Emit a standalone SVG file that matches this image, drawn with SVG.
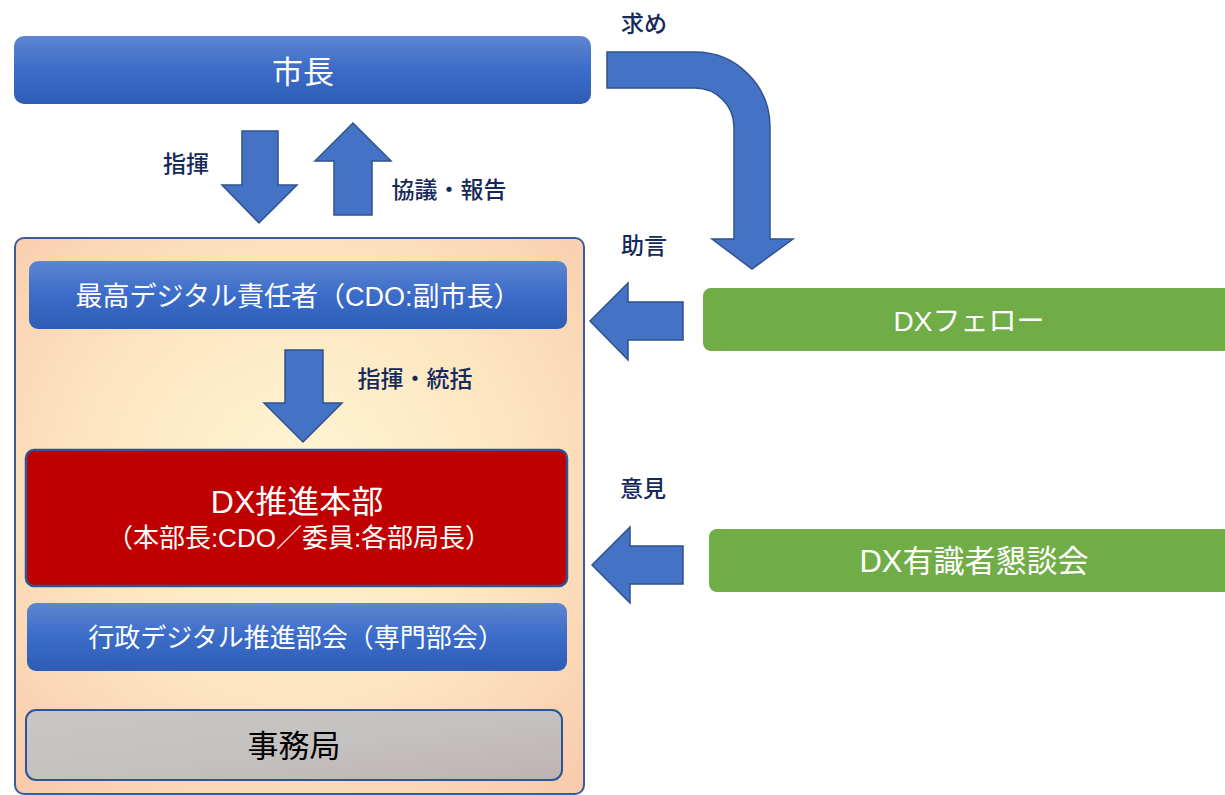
<svg xmlns="http://www.w3.org/2000/svg" width="1225" height="795" viewBox="0 0 1225 795">
<defs>
<linearGradient id="blue" x1="0" y1="0" x2="0" y2="1">
<stop offset="0" stop-color="#5e86d0"/>
<stop offset="0.5" stop-color="#3b6cc9"/>
<stop offset="1" stop-color="#2e5db5"/>
</linearGradient>
<radialGradient id="peach" cx="0.5" cy="0.45" r="0.75">
<stop offset="0" stop-color="#fff6d6"/>
<stop offset="0.5" stop-color="#fde6c0"/>
<stop offset="1" stop-color="#f7c9ab"/>
</radialGradient>
<linearGradient id="grey" x1="0" y1="0" x2="1" y2="1">
<stop offset="0" stop-color="#c9c6c6"/>
<stop offset="0.5" stop-color="#c4c2c1"/>
<stop offset="1" stop-color="#bfb3b3"/>
</linearGradient>
<style>
.t{font-family:"Liberation Sans","Noto Sans CJK JP",sans-serif;fill:#fff;text-anchor:middle;dominant-baseline:central}
.lbl{font-family:"Noto Sans CJK JP","Liberation Sans",sans-serif;fill:#15295a;font-size:23px;font-weight:500;text-anchor:middle;dominant-baseline:central}
.arr{fill:#4472c4;stroke:#2f528f;stroke-width:1.5;stroke-linejoin:miter}
.bluebox{fill:url(#blue)}
.green{fill:#70ad47}
</style>
</defs>
<rect width="1225" height="795" fill="#fff"/>

<g id="container">
<rect x="15" y="238" width="569" height="556" rx="9" fill="url(#peach)" stroke="#3b5c9a" stroke-width="2"/>
</g>

<g id="mayor">
<rect class="bluebox" x="14" y="36" width="577" height="68" rx="10"/>
<text class="t" x="303" y="72" font-size="31">市長</text>
</g>

<g id="cdo">
<rect class="bluebox" x="29" y="261" width="538" height="68" rx="9"/>
<text class="t" x="298" y="297" font-size="27">最高デジタル責任者（CDO:副市長）</text>
</g>

<g id="dx-hq">
<rect x="26" y="450" width="541" height="136" rx="8" fill="#c00000" stroke="#2f5496" stroke-width="2.5"/>
<text class="t" x="297" y="502" font-size="32">DX推進本部</text>
<text class="t" x="299" y="538" font-size="26">（本部長:CDO／委員:各部局長）</text>
</g>

<g id="gyosei">
<rect class="bluebox" x="27" y="603" width="540" height="68" rx="9"/>
<text class="t" x="296" y="638" font-size="26">行政デジタル推進部会（専門部会）</text>
</g>

<g id="jimukyoku">
<rect x="26" y="710" width="536" height="70" rx="10" fill="url(#grey)" stroke="#2f5496" stroke-width="2"/>
<text class="t" x="294" y="746" font-size="31" style="fill:#000">事務局</text>
</g>

<g id="dx-fellow">
<rect class="green" x="703" y="288" width="540" height="63" rx="8"/>
<text class="t" x="969" y="321" font-size="28">DXフェロー</text>
</g>

<g id="dx-council">
<rect class="green" x="709" y="529" width="534" height="63" rx="8"/>
<text class="t" x="974" y="561" font-size="31">DX有識者懇談会</text>
</g>

<g id="connectors">
<path class="arr" d="M242,131 L278,131 L278,185 L297,185 L259,223 L222,185 L242,185 Z"/>
<path class="arr" d="M334,215 L372,215 L372,161 L391,161 L353,123 L315,161 L334,161 Z"/>
<path class="arr" d="M285,350 L323,350 L323,403 L342,403 L303,442 L264,403 L285,403 Z"/>
<path class="arr" d="M607,52 L695,52 A75,75 0 0 1 770,127 L770,239 L793,239 L752,269 L712,239 L734,239 L734,127 A39,39 0 0 0 695,88 L607,88 Z"/>
<path class="arr" d="M683,302 L683,340 L628,340 L628,360 L590,321 L628,283 L628,302 Z"/>
<path class="arr" d="M683,546 L683,584 L630,584 L630,603 L592,565 L630,527 L630,546 Z"/>
<text class="lbl" x="186" y="162">指揮</text>
<text class="lbl" x="449" y="188">協議・報告</text>
<text class="lbl" x="415" y="377">指揮・統括</text>
<text class="lbl" x="644" y="22">求め</text>
<text class="lbl" x="644" y="244">助言</text>
<text class="lbl" x="643" y="487">意見</text>
</g>
</svg>
